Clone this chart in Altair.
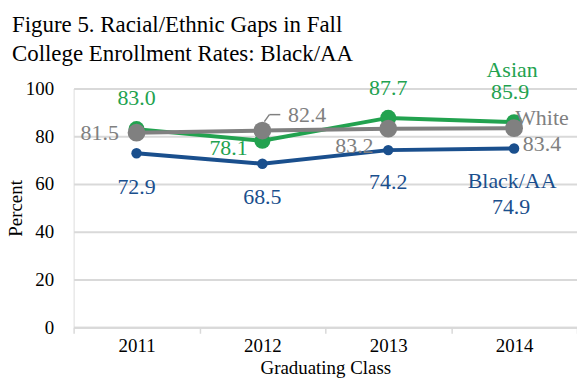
import altair as alt
import pandas as pd

years = ["2011", "2012", "2013", "2014"]
asian = [83.0, 78.1, 87.7, 85.9]
white = [81.5, 82.4, 83.2, 83.4]
black = [72.9, 68.5, 74.2, 74.9]
series_names = ["Asian", "White", "Black/AA"]
colors = ["#22a24f", "#808080", "#1a4f8d"]

rows = []
for name, vals in zip(series_names, [asian, white, black]):
    for y, v in zip(years, vals):
        rows.append({"year": y, "value": v, "series": name, "label": f"{v:.1f}"})
df = pd.DataFrame(rows)

FONT = "Times New Roman"
xenc = alt.X("year:N", scale=alt.Scale(paddingInner=0, paddingOuter=0),
             axis=alt.Axis(title="Graduating Class", labelAngle=0, labelFontSize=19,
                           titleFontSize=19, labelFont=FONT, titleFont=FONT,
                           titleFontWeight="normal",
                           labelColor="#000", titleColor="#000", domainColor="#d9d9d9",
                           domainWidth=2, tickColor="#d9d9d9", tickWidth=1.5, tickSize=6,
                           tickBand="extent", labelPadding=3, titlePadding=3, grid=False))
yenc = alt.Y("value:Q", scale=alt.Scale(domain=[0, 100]),
             axis=alt.Axis(title="Percent", values=[0, 20, 40, 60, 80, 100], labelFontSize=19,
                           titleFontSize=19, labelFont=FONT, titleFont=FONT,
                           labelColor="#000", titleColor="#000", domain=False, ticks=False,
                           gridColor="#d9d9d9", gridWidth=2, labelPadding=20, titlePadding=0,
                           titleFontWeight="normal"))
color = alt.Color("series:N", scale=alt.Scale(domain=series_names, range=colors), legend=None)

base = alt.Chart(df)
lines = base.mark_line(strokeWidth=4).encode(x=xenc, y=yenc, color=color, order=alt.Order("year:N"))

def pts(name, size):
    return base.transform_filter(alt.datum.series == name).mark_circle(size=size, opacity=1).encode(
        x="year:N", y="value:Q", color=color)

points = [pts("Black/AA", 110), pts("Asian", 260), pts("White", 320)]

def lab(name, year, dx, dy, text=None):
    ch = base.transform_filter((alt.datum.series == name) & (alt.datum.year == year))
    kw = {}
    if text is not None:
        kw["text"] = text
    m = ch.mark_text(font=FONT, fontSize=22, dx=dx, dy=dy, baseline="middle", **kw)
    enc = dict(x="year:N", y="value:Q", color=color)
    if text is None:
        enc["text"] = "label:N"
    return m.encode(**enc)

labels = [
    lab("Asian", "2011", 0, -31),
    lab("Asian", "2012", -34, 7),
    lab("Asian", "2013", 0, -30),
    lab("Asian", "2014", -4, -30),
    lab("Asian", "2014", -2, -52, "Asian"),
    lab("White", "2011", -37, 0),
    lab("White", "2012", 45, -16),
    lab("White", "2013", -34, 17),
    lab("White", "2014", 28, 16),
    lab("White", "2014", 28, -10, "White"),
    lab("Black/AA", "2011", 0, 34),
    lab("Black/AA", "2012", 0, 33),
    lab("Black/AA", "2013", 0, 32),
    lab("Black/AA", "2014", -2, 33, "Black/AA"),
    lab("Black/AA", "2014", -3, 59),
]

lead_src = base.transform_filter((alt.datum.series == "White") & (alt.datum.year == "2012"))
leader1 = lead_src.mark_rule(color="#808080", strokeWidth=1.5, xOffset=2, x2Offset=7,
                             yOffset=-9, y2Offset=-16).encode(
    x="year:N", x2="year:N", y="value:Q", y2="value:Q")
leader2 = lead_src.mark_rule(color="#808080", strokeWidth=1.5, xOffset=7, x2Offset=18,
                             yOffset=-16, y2Offset=-16).encode(
    x="year:N", x2="year:N", y="value:Q", y2="value:Q")

chart = alt.layer(lines, leader1, leader2, *points, *labels).properties(
    width=506, height=240,
    title=alt.TitleParams(["Figure 5. Racial/Ethnic Gaps in Fall", "College Enrollment Rates: Black/AA"],
                          anchor="start", frame="group", dx=-62, font=FONT, fontSize=23,
                          fontWeight="normal", color="#000", lineHeight=29, offset=-6),
    autosize=alt.AutoSizeParams(type="none"),
    padding={"left": 74, "top": 88, "right": 0, "bottom": 51},
).configure_view(stroke=None).configure(font=FONT)

chart.save("out.html", embed_options={"renderer": "svg", "actions": False})
